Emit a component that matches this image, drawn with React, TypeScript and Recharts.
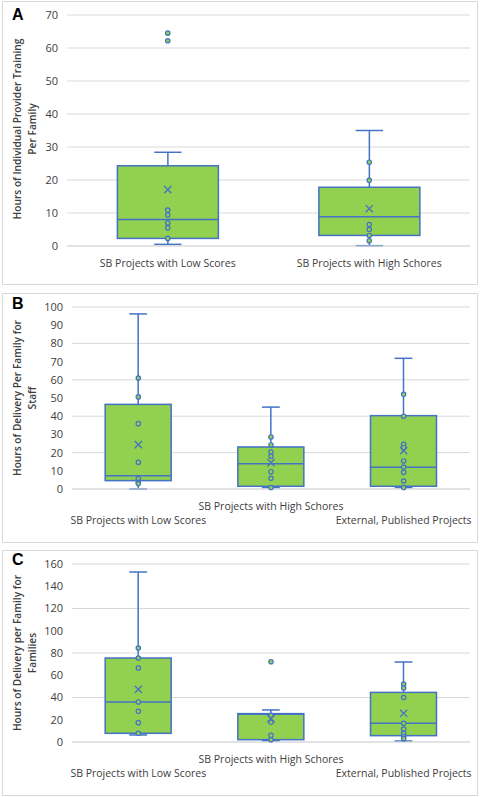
import React from "react";
import { ComposedChart, Bar, Scatter, XAxis, YAxis, CartesianGrid } from "recharts";

// Panel A: provider training hours
const aCategories = ["SB Projects with Low Scores", "SB Projects with High Schores"];
const aMin = [0.5, 0.1];
const aQ1 = [2.3, 3.2];
const aMedian = [8, 8.9];
const aQ3 = [24.3, 17.8];
const aMax = [28.4, 35];
const aMean = [17.1, 11.3];
const aPoints = [
  [64.5, 62.2, 10.9, 9.4, 7.0, 5.5, 2.3],
  [25.4, 19.9, 6.5, 5.0, 3.2, 1.6],
];
const aTicks = [0, 10, 20, 30, 40, 50, 60, 70];

// Panel B: delivery hours for staff
const bCategories = ["SB Projects with Low Scores", "SB Projects with High Schores", "External, Published Projects"];
const bMin = [0, 0.8, 0.8];
const bQ1 = [4.6, 1.5, 1.5];
const bMedian = [7.3, 13.9, 11.9];
const bQ3 = [46.5, 23.1, 40.3];
const bMax = [96.2, 45, 71.8];
const bMean = [24.4, 14.5, 21.1];
const bPoints = [
  [61, 50.6, 35.9, 14.7, 5.7, 3.7, 3],
  [28.6, 24.2, 20.3, 18, 9.5, 5.9, 0.8],
  [52, 40, 24.5, 22.7, 15.4, 12.1, 9.2, 4.4, 0.8],
];
const bTicks = [0, 10, 20, 30, 40, 50, 60, 70, 80, 90, 100];

// Panel C: delivery hours for families
const cCategories = ["SB Projects with Low Scores", "SB Projects with High Schores", "External, Published Projects"];
const cMin = [6.3, 1.2, 0.9];
const cQ1 = [7.8, 2.1, 5.7];
const cMedian = [36, 25, 16.8];
const cQ3 = [75.5, 25.5, 44.6];
const cMax = [152.8, 28.8, 71.9];
const cMean = [47.3, 21, 25.8];
const cPoints = [
  [84.5, 75.5, 66.5, 36, 27.6, 17.4, 7.8],
  [72.2, 24, 17.7, 6, 2],
  [52, 48.5, 40, 16.8, 11.7, 7.8, 4.8, 3],
];
const cTicks = [0, 20, 40, 60, 80, 100, 120, 140, 160];

const BLUE = "#4472c4";
const GREEN = "#92d050";
const GRID = "#d9d9d9";
const TEXT = "#404040";
const FONT = "'Open Sans', Lato, sans-serif";

const buildRows = (cats: string[], min: number[], q1: number[], med: number[], q3: number[], max: number[], mean: number[], pts: number[][]) =>
  cats.map((name, i) => {
    const row: any = { name, box: [q1[i], q3[i]], min: min[i], q1: q1[i], median: med[i], q3: q3[i], max: max[i], mean: mean[i] };
    pts[i].forEach((v, j) => (row[`p${j}`] = v));
    return row;
  });

// box + whiskers, positioned from the bar geometry the scale gives us
const BoxShape = (props: any) => {
  const { x, y, width, height, payload } = props;
  const top = Math.min(y, y + height);
  const h = Math.abs(height);
  const ppu = h / (payload.q3 - payload.q1);
  const toY = (v: number) => top + (payload.q3 - v) * ppu;
  const cx = x + width / 2;
  const cap = width * 0.27;
  return (
    <g>
      <line x1={cx} x2={cx} y1={toY(payload.max)} y2={toY(payload.q3)} stroke={BLUE} strokeWidth={1.5} />
      <line x1={cx} x2={cx} y1={toY(payload.q1)} y2={toY(payload.min)} stroke={BLUE} strokeWidth={1.5} />
      <line x1={cx - cap / 2} x2={cx + cap / 2} y1={toY(payload.max)} y2={toY(payload.max)} stroke={BLUE} strokeWidth={1.5} />
      <line x1={cx - cap / 2} x2={cx + cap / 2} y1={toY(payload.min)} y2={toY(payload.min)} stroke={BLUE} strokeWidth={1.5} />
      <rect x={x} y={top} width={width} height={h} fill={GREEN} stroke={BLUE} strokeWidth={1.5} />
      <line x1={x} x2={x + width} y1={toY(payload.median)} y2={toY(payload.median)} stroke={BLUE} strokeWidth={1.5} />
    </g>
  );
};

const pointShape = (key: string) => (props: any) => {
  if (props.payload == null || props.payload[key] == null) return <g />;
  return <circle cx={props.cx} cy={props.cy} r={2.2} fill={GREEN} stroke={BLUE} strokeWidth={1.2} />;
};

const meanShape = (props: any) => {
  const s = 3.6;
  return (
    <g stroke={BLUE} strokeWidth={1.3}>
      <line x1={props.cx - s} y1={props.cy - s} x2={props.cx + s} y2={props.cy + s} />
      <line x1={props.cx - s} y1={props.cy + s} x2={props.cx + s} y2={props.cy - s} />
    </g>
  );
};

const categoryTick = (staggered: boolean) => (props: any) => {
  const { x, y, payload, index } = props;
  const dy = staggered ? (index % 2 === 1 ? 20.5 : 34.5) : 21;
  return (
    <text x={x} y={y + dy} textAnchor="middle" fontSize={10.5} fill={TEXT} fontFamily={FONT}>
      {payload.value}
    </text>
  );
};

interface PanelProps {
  top: number;
  height: number;
  yWidth: number;
  xHeight: number;
  rows: any[];
  ticks: number[];
  nPoints: number;
  staggered: boolean;
}

const BoxPanel = ({ top, height, yWidth, xHeight, rows, ticks, nPoints, staggered }: PanelProps) => (
  <div style={{ position: "absolute", left: 0, top }}>
    <ComposedChart width={480} height={height} data={rows} margin={{ top: 14, right: 10, bottom: 0, left: 0 }} barCategoryGap="25%">
      <CartesianGrid vertical={false} stroke={GRID} />
      <XAxis dataKey="name" axisLine={{ stroke: GRID }} tickLine={false} tickSize={0} tickMargin={0} height={xHeight} interval={0} tick={categoryTick(staggered)} />
      <YAxis
        domain={[ticks[0], ticks[ticks.length - 1]]}
        ticks={ticks}
        axisLine={false}
        tickLine={false}
        tickSize={0}
        tickMargin={9}
        width={yWidth}
        tick={{ fontSize: 11, fill: TEXT, fontFamily: FONT }}
      />
      <Bar dataKey="box" shape={<BoxShape />} isAnimationActive={false} />
      {Array.from({ length: nPoints }, (_, j) => (
        <Scatter key={j} dataKey={`p${j}`} shape={pointShape(`p${j}`)} isAnimationActive={false} />
      ))}
      <Scatter dataKey="mean" shape={meanShape} isAnimationActive={false} />
    </ComposedChart>
  </div>
);

const frame = (top: number, height: number) => ({
  position: "absolute" as const,
  left: 2,
  top,
  width: 476,
  height,
  border: `1px solid ${GRID}`,
  boxSizing: "border-box" as const,
});

const AxisTitle = ({ cy, lines }: { cy: number; lines: string[] }) => (
  <>
    {lines.map((t, i) => (
      <text
        key={i}
        transform={`translate(${17 + i * 15}, ${cy}) rotate(-90)`}
        textAnchor="middle"
        dominantBaseline="central"
        fontSize={10.2}
        fontWeight={600}
        fill={TEXT}
        fontFamily={FONT}
      >
        {t}
      </text>
    ))}
  </>
);

export default function App() {
  const rowsA = buildRows(aCategories, aMin, aQ1, aMedian, aQ3, aMax, aMean, aPoints);
  const rowsB = buildRows(bCategories, bMin, bQ1, bMedian, bQ3, bMax, bMean, bPoints);
  const rowsC = buildRows(cCategories, cMin, cQ1, cMedian, cQ3, cMax, cMean, cPoints);
  const maxLen = (p: number[][]) => Math.max(...p.map((a) => a.length));

  return (
    <div style={{ position: "absolute", left: 0, top: 0, width: 480, height: 797, background: "#fff", overflow: "hidden" }}>
      <div style={frame(1, 284)} />
      <div style={frame(293, 250)} />
      <div style={frame(550, 246)} />
      <BoxPanel top={1} height={283} yWidth={67} xHeight={38} rows={rowsA} ticks={aTicks} nPoints={maxLen(aPoints)} staggered={false} />
      <BoxPanel top={293} height={249} yWidth={72} xHeight={53} rows={rowsB} ticks={bTicks} nPoints={maxLen(bPoints)} staggered={true} />
      <BoxPanel top={550} height={245} yWidth={72} xHeight={53} rows={rowsC} ticks={cTicks} nPoints={maxLen(cPoints)} staggered={true} />
      <svg width={480} height={797} style={{ position: "absolute", left: 0, top: 0, pointerEvents: "none" }}>
        <g fontFamily="Arial, 'Liberation Sans', sans-serif" fontWeight={700} fontSize={16} fill="#000">
          <text x={12} y={20}>A</text>
          <text x={12} y={309}>B</text>
          <text x={12} y={565}>C</text>
        </g>
        <AxisTitle cy={129} lines={["Hours of Individual Provider Training", "Per Family"]} />
        <AxisTitle cy={398} lines={["Hours of Delivery Per Family for", "Staff"]} />
        <AxisTitle cy={653} lines={["Hours of Delivery per Family for", "Families"]} />
      </svg>
    </div>
  );
}
